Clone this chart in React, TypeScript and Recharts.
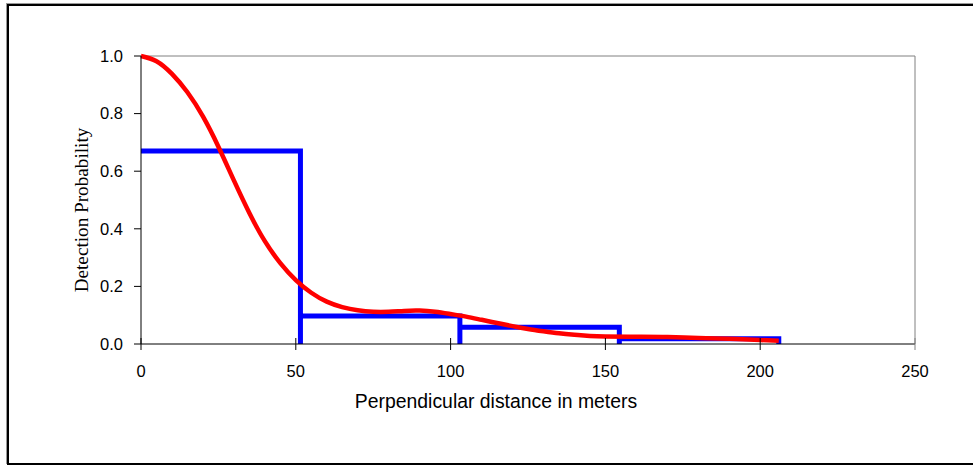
import { LineChart, Line, XAxis, YAxis, ReferenceLine, Label } from 'recharts';

// histogram of observed detections (bin edges in meters, bar heights)
const binEdges = [0, 51.5, 103, 154.5, 206];
const binHeights = [0.67, 0.097, 0.058, 0.018];

// fitted detection function
const curveX = [0, 5, 10, 15, 20, 25, 30, 35, 40, 45, 50, 55, 60, 65, 70, 75, 80, 85, 90, 95, 100, 105, 110, 115, 120, 125, 130, 135, 140, 145, 150, 160, 170, 180, 190, 200, 206];
const curveY = [1.0, 0.982, 0.938, 0.874, 0.79, 0.685, 0.568, 0.455, 0.357, 0.281, 0.222, 0.178, 0.147, 0.128, 0.117, 0.112, 0.112, 0.115, 0.116, 0.112, 0.104, 0.095, 0.084, 0.073, 0.062, 0.052, 0.044, 0.037, 0.032, 0.028, 0.026, 0.025, 0.024, 0.021, 0.018, 0.014, 0.011];

const xTicks = [0, 50, 100, 150, 200, 250];
const yTicks = [0, 0.2, 0.4, 0.6, 0.8, 1.0];

const W = 973;
const H = 466;
const M = { top: 56, right: 58, left: 0, bottom: 92 };
const Y_AXIS_W = 141;
const X_AXIS_H = 30;
const AXIS_Y = H - M.bottom - X_AXIS_H;

const histData: { x: number; y: number }[] = [];
binHeights.forEach((h, i) => {
  histData.push({ x: binEdges[i], y: h });
  histData.push({ x: binEdges[i + 1], y: h });
  histData.push({ x: binEdges[i + 1], y: 0 });
});

const curveData = curveX.map((x, i) => ({ x, y: curveY[i] }));

const sans = 'Arial, "Liberation Sans", sans-serif';
const tickFont = { fontFamily: sans, fontSize: 16.5, fill: '#000' };

const XTick = (props: any) => {
  const { x, payload } = props;
  return (
    <g>
      <line x1={x} x2={x} y1={AXIS_Y - 6} y2={AXIS_Y + 6} stroke={payload.value === 250 ? '#808080' : '#000'} />
      <text x={x} y={377} textAnchor="middle" {...tickFont}>
        {payload.value}
      </text>
    </g>
  );
};

export default function App() {
  return (
    <div style={{ position: 'absolute', left: 0, top: 0, width: W, height: H, overflow: 'hidden', background: '#fff' }}>
      <div
        style={{
          position: 'absolute',
          left: 7,
          top: 4,
          width: W + 20,
          height: 457,
          border: '2px solid #000',
          boxShadow: '-1px -1px 0 #999',
        }}
      />
      <div style={{ position: 'absolute', left: 0, top: 0 }}>
        <LineChart width={W} height={H} margin={M}>
          <XAxis
            type="number"
            dataKey="x"
            domain={[0, 250]}
            ticks={xTicks}
            height={X_AXIS_H}
            axisLine={{ stroke: '#000' }}
            tickLine={false}
            tick={<XTick />}
            interval={0}
          >
            <Label
              content={() => (
                <text x={496} y={408} textAnchor="middle" fontFamily={sans} fontSize={19.4} fill="#000">
                  Perpendicular distance in meters
                </text>
              )}
            />
          </XAxis>
          <YAxis
            type="number"
            dataKey="y"
            domain={[0, 1]}
            ticks={yTicks}
            width={Y_AXIS_W}
            axisLine={{ stroke: '#000' }}
            tickLine={{ stroke: '#000' }}
            tickSize={7}
            tickMargin={11}
            tick={tickFont}
            tickFormatter={(v: number) => v.toFixed(1)}
            interval={0}
          >
            <Label
              content={() => (
                <text
                  x={88}
                  y={210}
                  textAnchor="middle"
                  transform="rotate(-90 88 210)"
                  fontFamily='"Times New Roman", "Liberation Serif", serif'
                  fontSize={19.2}
                  fill="#000"
                >
                  Detection Probability
                </text>
              )}
            />
          </YAxis>
          <ReferenceLine y={1} stroke="#808080" />
          <ReferenceLine x={250} stroke="#808080" />
          <Line
            data={histData}
            dataKey="y"
            type="linear"
            stroke="#0000ff"
            strokeWidth={5}
            dot={false}
            isAnimationActive={false}
          />
          <Line
            data={curveData}
            dataKey="y"
            type="natural"
            stroke="#ff0000"
            strokeWidth={4.5}
            dot={false}
            isAnimationActive={false}
          />
        </LineChart>
      </div>
    </div>
  );
}
